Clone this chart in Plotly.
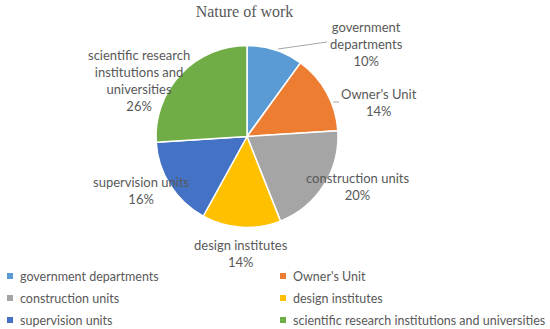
import plotly.graph_objects as go

categories = ["government departments", "Owner's Unit", "construction units",
              "design institutes", "supervision units",
              "scientific research institutions and universities"]
values = [10, 14, 20, 14, 16, 26]
label_lines = ["government<br>departments", "Owner's Unit", "construction units",
               "design institutes", "supervision units",
               "scientific research<br>institutions and<br>universities"]
colors = ["#5B9BD5", "#ED7D31", "#A5A5A5", "#FFC000", "#4472C4", "#70AD47"]

W, H = 550, 329
FONT = "Lato"
TXT = "#595959"


def X(px):
    return px / W


def Y(py):
    return (H - py) / H


fig = go.Figure(go.Pie(
    labels=categories, values=values, sort=False, direction="clockwise", rotation=0,
    marker=dict(colors=colors, line=dict(color="white", width=1.5)),
    textinfo="none", hoverinfo="label+percent", showlegend=False,
    domain=dict(x=[X(156), X(338)], y=[Y(228), Y(45)]),
))

# data labels (center of text block, px)
label_pos = [(366, 44), (379, 103), (357, 186), (241, 254), (141, 190), (139, 80)]
total = sum(values)
for name, v, (px, py) in zip(label_lines, values, label_pos):
    fig.add_annotation(
        x=X(px), y=Y(py), xref="paper", yref="paper",
        text=f"{name}<br>{round(100 * v / total)}%", showarrow=False,
        font=dict(family=FONT, size=13, color=TXT), align="center",
        xanchor="center", yanchor="middle",
    )

# leader lines
for (x0, y0, x1, y1) in [(278, 49, 327, 42), (333, 102, 339, 102)]:
    fig.add_shape(type="line", xref="paper", yref="paper",
                  x0=X(x0), y0=Y(y0), x1=X(x1), y1=Y(y1),
                  line=dict(color="#A6A6A6", width=1))

# legend: two columns, three rows
col_x = [7, 280]
row_y = [276, 298, 320]
for i, (name, c) in enumerate(zip(categories, colors)):
    cx, ry = col_x[i % 2], row_y[i // 2]
    fig.add_shape(type="rect", xref="paper", yref="paper",
                  x0=X(cx), x1=X(cx + 6), y0=Y(ry + 3), y1=Y(ry - 3),
                  fillcolor=c, line=dict(width=0))
    fig.add_annotation(x=X(cx + 11), y=Y(ry), xref="paper", yref="paper",
                       text=name, showarrow=False, xanchor="left", yanchor="middle",
                       font=dict(family=FONT, size=12.5, color=TXT))

fig.update_layout(
    width=W, height=H,
    margin=dict(l=0, r=0, t=0, b=0, autoexpand=False),
    paper_bgcolor="white", plot_bgcolor="white",
    title=dict(text="Nature of work", x=244.5 / W, xanchor="center", y=1 - 11 / H, yanchor="middle",
               font=dict(family="Liberation Serif", size=16, color=TXT)),
    showlegend=False,
)

fig.write_html("out.html", config={"displayModeBar": False},
               post_script="document.body.style.margin='0';")
